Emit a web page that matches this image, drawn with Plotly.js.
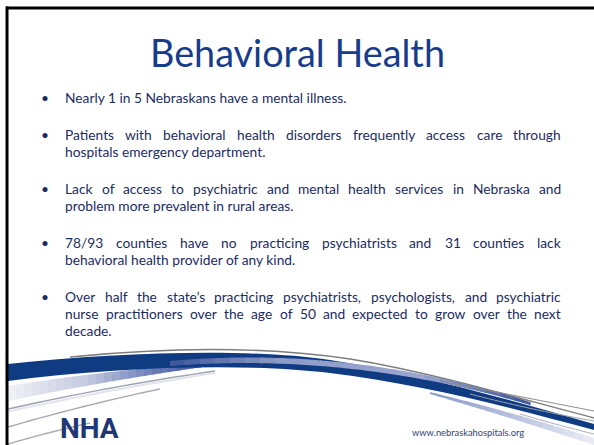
<!DOCTYPE html>
<html>
<head>
<meta charset="utf-8">
<script src="https://cdn.plot.ly/plotly-3.0.1.min.js"></script>
<style>html,body{margin:0;padding:0;background:#fff;}#chart{width:594px;height:445px;}</style>
</head>
<body>
<div id="chart"></div>
<script>
// ---- content ----
const titleText = "Behavioral Health";
const bullet1 = ["Nearly 1 in 5 Nebraskans have a mental illness."];
const bullet2 = ["Patients with behavioral health disorders frequently access care through",
                 "hospitals emergency department."];
const bullet3 = ["Lack of access to psychiatric and mental health services in Nebraska and",
                 "problem more prevalent in rural areas."];
const bullet4 = ["78/93 counties have no practicing psychiatrists and 31 counties lack",
                 "behavioral health provider of any kind."];
const bullet5 = ["Over half the state\u2019s practicing psychiatrists, psychologists, and psychiatric",
                 "nurse practitioners over the age of 50 and expected to grow over the next",
                 "decade."];
const bullets = [bullet1, bullet2, bullet3, bullet4, bullet5];
const urlText = "www.nebraskahospitals.org";
const logoText = "NHA";

// ---- layout helpers ----
const W = 594, H = 445;
const FONT = "Lato";
const bodyColor = "#1c2c60";
const titleColor = "#173c8c";
const canvas = document.createElement("canvas");
const ctx = canvas.getContext("2d");
function measure(t, size, weight) { ctx.font = (weight||"normal") + " " + size + "px " + FONT; return ctx.measureText(t).width; }

const textLeft = 65, textRight = 561, bulletX = 45;
const bodySize = +(282 / measure(bullet1[0], 1)).toFixed(2);
const titleSize = +(295 / measure(titleText, 1)).toFixed(2);

const annotations = [];
annotations.push({x: W/2, y: 52, xref: "x", yref: "y", text: titleText, showarrow: false,
  xanchor: "center", yanchor: "middle", font: {family: FONT, size: titleSize, color: titleColor}});

let y = 97;
bullets.forEach((para) => {
  annotations.push({x: bulletX, y: y, xref: "x", yref: "y", text: "\u2022", showarrow: false,
    xanchor: "center", yanchor: "middle", borderpad: 0, borderwidth: 0,
    font: {family: FONT, size: bodySize, color: bodyColor}});
  para.forEach((line, i) => {
    const justify = i < para.length - 1;
    if (!justify) {
      annotations.push({x: textLeft, y: y, xref: "x", yref: "y", text: line, showarrow: false,
        xanchor: "left", yanchor: "middle", borderpad: 0, borderwidth: 0,
        font: {family: FONT, size: bodySize, color: bodyColor}});
    } else {
      const words = line.split(" ");
      const widths = words.map(w => measure(w, bodySize));
      const total = widths.reduce((a, b) => a + b, 0);
      const gap = (textRight - textLeft - total) / (words.length - 1);
      let x = textLeft;
      words.forEach((w, k) => {
        annotations.push({x: x, y: y, xref: "x", yref: "y", text: w, showarrow: false,
          xanchor: "left", yanchor: "middle", borderpad: 0, borderwidth: 0,
          font: {family: FONT, size: bodySize, color: bodyColor}});
        x += widths[k] + gap;
      });
    }
    y += 17;
  });
  y += 20;
});

annotations.push({x: 412, y: 432, xref: "x", yref: "y", text: urlText, showarrow: false,
  xanchor: "left", yanchor: "middle", borderpad: 0, borderwidth: 0,
  font: {family: FONT, size: 9.3, color: "#2f3f7c"}});
annotations.push({x: 60, y: 444.5, xref: "x", yref: "y", text: "<b>" + logoText + "</b>", showarrow: false,
  xanchor: "left", yanchor: "bottom", borderpad: 0, borderwidth: 0,
  font: {family: "Roboto", size: 28, color: "#1f3773"}});

// ---- decorative swoosh (drawn as graded slices) ----
function qcurve(x0, y0, yc, x1, y1) {
  return (x) => { const t = (x - x0) / (x1 - x0); return (1-t)*(1-t)*y0 + 2*(1-t)*t*yc + t*t*y1; };
}
function hex2rgb(h) { return [1,3,5].map(i => parseInt(h.substr(i,2),16)); }
function mix(c1, c2, t) { const a = hex2rgb(c1), b = hex2rgb(c2);
  return "rgb(" + a.map((v,i) => Math.round(v + (b[i]-v)*t)).join(",") + ")"; }
function colorAt(stops, t) {
  for (let i = 0; i < stops.length - 1; i++) {
    if (t <= stops[i+1][0]) { const u = (t - stops[i][0]) / (stops[i+1][0] - stops[i][0]); return mix(stops[i][1], stops[i+1][1], u); }
  }
  return stops[stops.length-1][1];
}
function gradedBand(xa, xb, top, bot, stops, n) {
  const out = [];
  for (let k = 0; k < n; k++) {
    const a = xa + (xb - xa) * k / n, b = xa + (xb - xa) * (k + 1) / n + 0.6;
    const pts = [];
    for (let j = 0; j <= 4; j++) { const x = a + (b - a) * j / 4; pts.push([x, top(x)]); }
    for (let j = 4; j >= 0; j--) { const x = a + (b - a) * j / 4; pts.push([x, bot(x)]); }
    out.push({type: "path", layer: "below", fillcolor: colorAt(stops, (k + 0.5) / n), line: {width: 0},
      path: "M " + pts.map(p => p[0].toFixed(1) + " " + p[1].toFixed(1)).join(" L ") + " Z"});
  }
  return out;
}
function strokePath(x0, y0, yc, x1, y1, color, width) {
  const f = qcurve(x0, y0, yc, x1, y1);
  const pts = []; for (let j = 0; j <= 20; j++) { const x = x0 + (x1 - x0) * j / 20; pts.push(x.toFixed(1) + " " + f(x).toFixed(1)); }
  return {type: "path", layer: "below", path: "M " + pts.join(" L "), line: {color: color, width: width}};
}

let shapes = [];
shapes = shapes.concat(gradedBand(8, 232, qcurve(8, 386, 368, 232, 362), qcurve(8, 401, 378, 232, 363),
  [[0, "#f1f2f7"], [0.35, "#c4cae0"], [0.65, "#6b7cbb"], [1, "#1d3f88"]], 28));
shapes.push(strokePath(8, 409, 386, 215, 371, "#9ea3b2", 1.4));
shapes.push(strokePath(8, 411.5, 389, 215, 373, "#e2e4ec", 2));
shapes.push(strokePath(8, 427, 405, 160, 389, "#a4a8b4", 1.4));
shapes.push(strokePath(8, 444, 432, 90, 423, "#aaaeb9", 1.4));
shapes.push({type: "path", layer: "below", path: "M 70 357 C 180 346, 270 347, 350 359 C 430 372, 510 396, 594 418", line: {color: "#7d7d7d", width: 1.4}});
shapes.push({type: "path", layer: "below", path: "M 8 364 C 120 352, 250 348, 330 360 C 420 374, 510 400, 594 424 L 594 430 C 510 407, 420 384, 330 373 C 250 363, 120 366, 8 381 Z", fillcolor: "#0f3b83", line: {width: 0}});
shapes = shapes.concat(gradedBand(170, 530, qcurve(170, 361, 345, 530, 402), qcurve(170, 366, 352, 530, 405),
  [[0, "#3a5399"], [0.3, "#8d9bc8"], [0.7, "#9aa6cf"], [1, "#3a5399"]], 24));
shapes = shapes.concat(gradedBand(430, 594, qcurve(430, 392, 412, 594, 438), qcurve(430, 394, 418, 594, 445),
  [[0, "#8c9ac8"], [0.5, "#b7c0dd"], [1, "#eceef5"]], 16));
shapes.push(strokePath(440, 381, 396, 594, 411, "#8d8d8d", 1));
shapes.push(strokePath(470, 394, 410, 594, 421, "#9a9fae", 1));
shapes.push(strokePath(520, 414, 425, 594, 434, "#a9aebb", 1));
shapes.push({type: "line", x0: 6, x1: W, y0: 8, y1: 8, line: {color: "#000", width: 3}});
shapes.push({type: "line", x0: 7, x1: 7, y0: 6.5, y1: H, line: {color: "#000", width: 3}});

const layout = {
  width: W, height: H,
  margin: {l: 0, r: 0, t: 0, b: 0},
  paper_bgcolor: "#ffffff", plot_bgcolor: "#ffffff",
  xaxis: {range: [0, W], visible: false, fixedrange: true},
  yaxis: {range: [H, 0], visible: false, fixedrange: true},
  showlegend: false,
  annotations: annotations,
  shapes: shapes
};
Plotly.newPlot("chart", [], layout, {staticPlot: true, displayModeBar: false});
</script>
</body>
</html>
